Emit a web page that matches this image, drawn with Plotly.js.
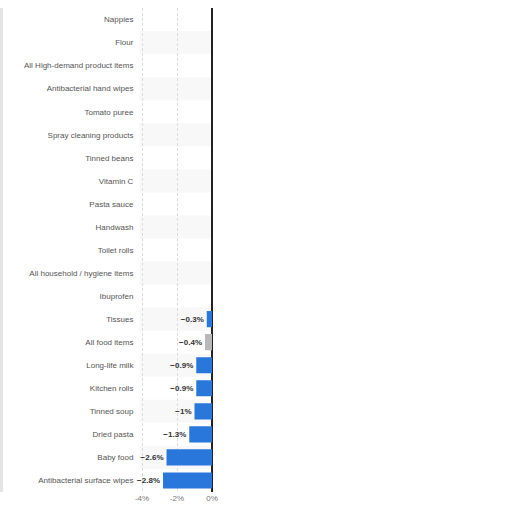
<!DOCTYPE html>
<html>
<head>
<meta charset="utf-8">
<script src="https://cdn.plot.ly/plotly-3.0.1.min.js"></script>
<style>
  html, body { margin: 0; padding: 0; background: #fff; }
  #chart { width: 512px; height: 512px; }
</style>
</head>
<body>
<div id="chart"></div>
<script>
// Categories top to bottom, as in the picture
const categories = [
    "Nappies", "Flour", "All High-demand product items", "Antibacterial hand wipes",
    "Tomato puree", "Spray cleaning products", "Tinned beans", "Vitamin C",
    "Pasta sauce", "Handwash", "Toilet rolls", "All household / hygiene items",
    "Ibuprofen", "Tissues", "All food items", "Long-life milk", "Kitchen rolls",
    "Tinned soup", "Dried pasta", "Baby food", "Antibacterial surface wipes"
]
// Change in %, only the negative side of the chart is visible
const changes = [
    null, null, null, null, null, null, null, null, null, null, null, null, null,
    -0.3, -0.4, -0.9, -0.9, -1, -1.3, -2.6, -2.8
]
// grey bar for the aggregate food row
const highlight = ["All food items"]
const xTicks = [-4, -2, 0]
const xTickLabels = ["-4%", "-2%", "0%"]

const blue = "#2a77dc"
const grey = "#b8b8b8"

const labels = changes.map((v) => v === null ? "" : "\u2212" + Math.abs(v) + "%")

const trace = {
    type: "bar",
    orientation: "h",
    y: categories,
    x: changes,
    marker: {color: categories.map((c) => highlight.includes(c) ? grey : blue)},
    text: labels,
    textposition: "outside",
    textfont: {family: "Liberation Sans, Arial, sans-serif", size: 8, color: "#333", weight: "bold"},
    cliponaxis: false,
    hoverinfo: "skip"
}

// alternating row bands
const shapes = []
categories.forEach((c, i) => {
    if (i % 2 === 1) {
        shapes.push({
            type: "rect", layer: "below",
            xref: "x domain", x0: 0, x1: 1,
            yref: "y", y0: i - 0.5, y1: i + 0.5,
            fillcolor: "#f8f8f8", line: {width: 0}
        })
    }
})
// faint left edge shadow of the original screenshot
shapes.push({
    type: "rect", layer: "below", xref: "paper", yref: "paper",
    x0: 0, x1: 0.006, y0: 0, y1: 1, fillcolor: "#e4e4e4", line: {width: 0}
})

const layout = {
    width: 512,
    height: 512,
    margin: {l: 0, r: 0, t: 8, b: 20},
    paper_bgcolor: "#fff",
    plot_bgcolor: "rgba(0,0,0,0)",
    showlegend: false,
    bargap: 0.3,
    font: {family: "Liberation Sans, Arial, sans-serif", size: 8, color: "#555"},
    xaxis: {
        domain: [139.4 / 512, 212 / 512],
        range: [-4.15, 0],
        tickvals: xTicks,
        ticktext: xTickLabels,
        tickfont: {size: 8, color: "#777"},
        showgrid: true,
        gridcolor: "#dcdcdc",
        griddash: "3px,2px",
        gridwidth: 1,
        zeroline: true,
        zerolinecolor: "#222",
        zerolinewidth: 1.5,
        showline: false,
        fixedrange: true
    },
    yaxis: {
        autorange: "reversed",
        type: "category",
        showgrid: false,
        zeroline: false,
        ticks: "",
        ticklabelstandoff: 5,
        tickfont: {size: 8, color: "#555"},
        fixedrange: true
    },
    shapes: shapes
}

Plotly.newPlot("chart", [trace], layout, {staticPlot: true, displayModeBar: false})
</script>
</body>
</html>
